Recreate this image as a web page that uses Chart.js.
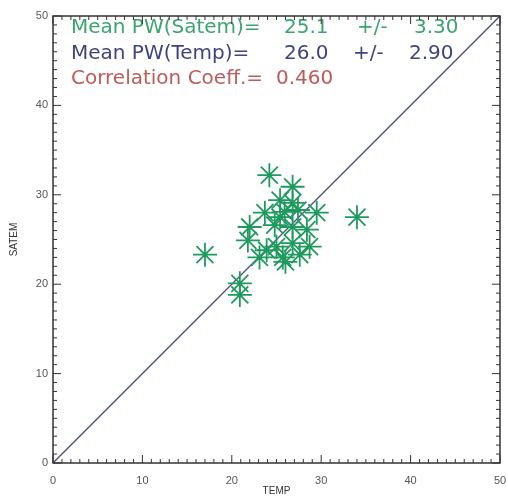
<!DOCTYPE html>
<html>
<head>
<meta charset="utf-8">
<script src="https://cdn.jsdelivr.net/npm/chart.js@4"></script>
<style>
  html, body { margin: 0; padding: 0; background: #fff; overflow: hidden; }
  #wrap { width: 508px; height: 497px; }
</style>
</head>
<body>
<div id="wrap"><canvas id="scatter"></canvas></div>
<script>
// PW values
var tempPW  = [24.2, 26.8, 25.4, 26.8, 23.7, 25.4, 29.5, 22.0, 26.8, 28.4, 25.0, 26.8, 28.7, 23.1, 25.7,
               34.0, 17.0, 20.9, 20.9, 21.8, 23.9, 26.0, 27.6, 25.9, 27.4, 24.8];
var satemPW = [32.2, 30.9, 29.4, 29.1, 28.0, 27.5, 28.0, 26.4, 26.4, 26.1, 24.2, 24.6, 24.2, 23.0, 23.0,
               27.5, 23.3, 20.1, 18.8, 24.9, 23.8, 22.5, 23.3, 28.1, 28.3, 26.6];
var oneToOne = [0, 50];
var tickLabels = ['0', '10', '20', '30', '40', '50'];
var statText = [
  ['Mean PW(Satem)=', '25.1', '+/-', '3.30'],
  ['Mean PW(Temp)=', '26.0', '+/-', '2.90'],
  ['Correlation Coeff.=', '0.460']
];
var statColors = ['#3aa56f', '#3f4480', '#c05a5a'];

var points = tempPW.map(function (t, i) { return { x: t, y: satemPW[i] }; });
var diag = oneToOne.map(function (v) { return { x: v, y: v }; });

function noPad(s) {
  s.getPadding = function () { return { left: 0, top: 0, right: 0, bottom: 0 }; };
}

// IDL style box with inward ticks, and the stats text
var boxPlugin = {
  id: 'box',
  afterDatasetsDraw: function (chart) {
    var c = chart.ctx, a = chart.chartArea;
    var xs = chart.scales.x, ys = chart.scales.y;
    c.save();
    // stats text (drawn under the frame, like the original)
    var colX = [
      [18, 231, 304, 361],
      [18, 231, 300, 356],
      [18, 223]
    ];
    c.font = '20px "DejaVu Sans"';
    c.textBaseline = 'alphabetic';
    statText.forEach(function (parts, i) {
      c.fillStyle = statColors[i];
      parts.forEach(function (p, j) {
        c.fillText(p, a.left + colX[i][j], a.top + 17 + i * 25.5);
      });
    });
    c.strokeStyle = '#333';
    c.lineWidth = 1.5;
    c.strokeRect(a.left, a.top, a.right - a.left, a.bottom - a.top);
    c.lineWidth = 1;
    for (var v = 0; v <= 50; v++) {
      var len = (v % 10 === 0) ? 8 : 4;
      var px = xs.getPixelForValue(v), py = ys.getPixelForValue(v);
      c.beginPath();
      c.moveTo(px, a.bottom); c.lineTo(px, a.bottom - len);
      c.moveTo(px, a.top); c.lineTo(px, a.top + len);
      c.moveTo(a.left, py); c.lineTo(a.left + len, py);
      c.moveTo(a.right, py); c.lineTo(a.right - len, py);
      c.stroke();
    }
    c.restore();
  }
};

new Chart(document.getElementById('scatter'), {
  type: 'scatter',
  data: {
    datasets: [{
      label: 'SATEM vs TEMP',
      data: points,
      pointStyle: 'star',
      pointRadius: 12,
      pointHoverRadius: 12,
      borderColor: '#1f9a5e',
      pointBorderWidth: 1.8,
      backgroundColor: '#1f9a5e'
    }, {
      type: 'line',
      label: '1:1',
      data: diag,
      borderColor: '#4a4c80',
      borderWidth: 1.3,
      pointRadius: 0,
      fill: false
    }]
  },
  options: {
    responsive: true,
    maintainAspectRatio: false,
    animation: false,
    layout: { autoPadding: false, padding: { top: 16, right: 8, left: 0, bottom: 0 } },
    plugins: { legend: { display: false }, tooltip: { enabled: false } },
    scales: {
      x: {
        type: 'linear', min: 0, max: 50,
        afterFit: function (s) { s.height = 34; noPad(s); },
        grid: { display: false, drawTicks: false },
        border: { display: false },
        ticks: {
          stepSize: 10, padding: 11, color: '#555',
          font: { family: 'Liberation Sans', size: 11 },
          callback: function (v) { return tickLabels[v / 10]; }
        },
        title: { display: true, text: 'TEMP', color: '#333', padding: 0,
                 font: { family: 'Liberation Sans', size: 10 } }
      },
      y: {
        type: 'linear', min: 0, max: 50,
        afterFit: function (s) { s.width = 53; noPad(s); },
        grid: { display: false, drawTicks: false },
        border: { display: false },
        ticks: {
          stepSize: 10, padding: 5, color: '#555',
          font: { family: 'Liberation Sans', size: 11 },
          callback: function (v) { return tickLabels[v / 10]; }
        },
        title: { display: true, text: 'SATEM', color: '#333', padding: { top: 8, bottom: 0 },
                 font: { family: 'Liberation Sans', size: 10 } }
      }
    }
  },
  plugins: [boxPlugin]
});
</script>
</body>
</html>
